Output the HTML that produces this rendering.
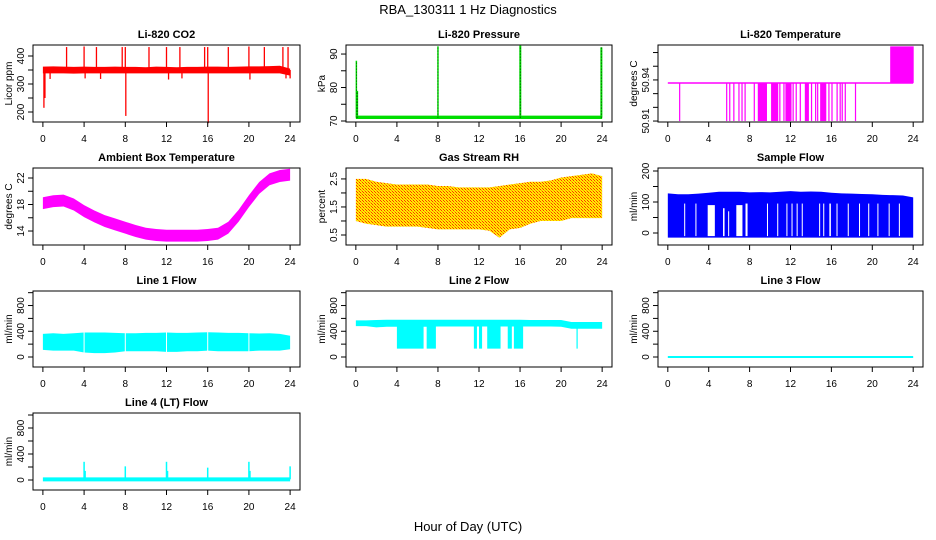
<!DOCTYPE html>
<html><head><meta charset="utf-8"><style>
body{margin:0;background:#fff}
svg{display:block;font-family:"Liberation Sans",Arial,sans-serif}
.t{font-weight:bold;font-size:11px;text-anchor:middle}
.tl{font-size:10px;text-anchor:middle}
</style></head><body>
<svg id="c" width="936" height="540" viewBox="0 0 936 540">
<defs>
<pattern id="rh" width="3" height="3" patternUnits="userSpaceOnUse">
<rect width="3" height="3" fill="#ffee00"/><rect width="1" height="1" fill="#ff3300"/><rect x="2" y="2" width="1" height="1" fill="#ff3300"/><rect x="1" y="1" width="1" height="1" fill="#ff9900"/>
</pattern>
</defs>
<text x="468" y="14" font-size="13" text-anchor="middle">RBA_130311  1 Hz Diagnostics</text>
<text x="468" y="531" font-size="13" text-anchor="middle">Hour of Day (UTC)</text>
</svg>
<script>
const hours=[0,1,2,3,4,5,6,7,8,9,10,11,12,13,14,15,16,17,18,19,20,21,22,23,24];
const xTicks=[0,4,8,12,16,20,24];
// CO2
const co2Low=[338,338,338,337,338,338,338,338,338,338,338,338,338,338,338,338,338,338,338,338,338,338,338,338,330];
const co2High=[362,363,362,361,362,361,361,362,361,361,360,362,361,360,361,361,362,362,361,362,363,363,364,365,355];
const co2SpikeH=[0.1,0.2,0.7,2.3,4.0,4.1,5.2,5.6,7.7,8.0,8.05,10.3,12.0,12.2,13.3,13.5,15.7,16.0,16.05,18.0,20.0,20.1,21.5,23.3,23.6,23.8,24.0];
const co2SpikeV=[215,250,318,432,434,320,432,318,432,432,186,432,432,316,432,320,432,432,160,432,434,316,432,432,320,432,320];
// Pressure
const presLow=[70.6,70.6,70.6,70.6,70.6,70.6,70.6,70.6,70.6,70.6,70.6,70.6,70.6,70.6,70.6,70.6,70.6,70.6,70.6,70.6,70.6,70.6,70.6,70.6,70.6];
const presHigh=[71.6,71.6,71.6,71.6,71.6,71.6,71.6,71.6,71.6,71.6,71.6,71.6,71.6,71.6,71.6,71.6,71.6,71.6,71.6,71.6,71.6,71.6,71.6,71.6,71.6];
const presSpikeH=[0.05,0.15,8.0,16.0,16.05,23.9,23.95];
const presSpikeV=[88,79,92.3,92.5,92.5,92,92];
// Li-820 temperature
const tempBase=50.9378, tempHigh=50.9645, tempLow=50.91;
const tempHighStart=21.75, tempHighEnd=24.05;
const tempDrops=[[1.1,1.2],[5.7,5.8],[6.0,6.1],[6.4,6.5],[6.9,7.0],[7.2,7.3],[7.5,7.6],[8.4,8.5],[8.8,9.7],[10.1,10.8],[10.9,11.0],[11.3,11.4],[11.5,12.1],[12.2,12.3],[12.5,12.6],[12.9,13.0],[13.4,13.8],[14.0,14.1],[14.4,14.5],[14.6,14.7],[14.9,15.5],[15.7,15.8],[16.0,16.1],[16.5,16.6],[16.8,16.9],[17.0,17.1],[17.3,17.4],[18.3,18.4]];
// Ambient box temperature
const ambMid=[18.2,18.5,18.6,18.0,17.0,16.2,15.5,15.0,14.5,14.0,13.6,13.4,13.3,13.3,13.3,13.3,13.4,13.6,14.5,16.3,18.5,20.5,21.8,22.3,22.5];
const ambHalf=0.9;
// Gas stream RH
const rhLow=[1.0,0.9,0.85,0.8,0.8,0.8,0.8,0.75,0.7,0.7,0.7,0.7,0.7,0.65,0.4,0.7,0.75,0.9,1.0,1.0,1.0,1.1,1.1,1.1,1.1];
const rhHigh=[2.5,2.5,2.4,2.35,2.3,2.3,2.3,2.3,2.25,2.25,2.2,2.2,2.2,2.2,2.25,2.3,2.35,2.4,2.4,2.45,2.55,2.6,2.65,2.7,2.6];
// Sample flow
const sfLow=[-15,-15,-15,-15,-15,-15,-15,-15,-15,-15,-15,-15,-15,-15,-15,-15,-15,-15,-15,-15,-15,-15,-15,-15,-15];
const sfHigh=[128,125,125,127,130,133,133,133,131,132,131,133,135,133,134,133,130,128,127,126,125,123,122,121,115];
const sfGapH=[1.6,2.7,3.9,5.4,5.9,6.7,7.6,9.7,10.7,11.6,12.1,12.6,13.1,14.8,15.2,15.8,16.5,17.6,18.7,19.6,20.5,21.6,22.6];
const sfGapW=[0.1,0.1,0.7,0.15,0.1,0.6,0.2,0.1,0.1,0.1,0.1,0.1,0.1,0.1,0.1,0.15,0.1,0.1,0.1,0.1,0.1,0.1,0.1];
const sfGapTop=[95,95,90,80,70,90,95,95,95,95,95,95,95,95,95,95,95,95,95,95,95,95,95];
// Line 1 flow
const l1Low=[110,100,100,100,70,60,60,70,90,90,90,90,80,80,90,90,100,90,90,90,90,100,100,100,120];
const l1High=[360,370,360,370,380,380,380,375,370,370,375,375,380,375,375,380,385,380,375,375,370,365,370,360,330];
// Line 2 flow
const l2Low=[480,480,460,470,470,470,470,470,475,475,475,475,475,475,475,475,475,475,475,475,470,440,440,440,440];
const l2High=[570,570,575,580,580,580,580,580,580,580,580,580,580,580,580,580,580,575,575,575,575,545,545,545,545];
const l2Drops=[[4.0,6.6],[6.9,7.8],[11.5,11.8],[12.0,12.3],[12.8,14.1],[14.8,15.2],[15.4,16.3],[21.5,21.55]];
const l2DropV=[130,130,130,130,130,130,130,130];
// Line 3 flow
const l3Val=[0,0,0,0,0,0,0,0,0,0,0,0,0,0,0,0,0,0,0,0,0,0,0,0,0];
// Line 4 flow
const l4Val=[10,10,10,10,10,10,10,10,10,10,10,10,10,10,10,10,10,10,10,10,10,10,10,10,10];
const l4SpikeH=[4.0,4.1,8.0,12.0,12.1,16.0,20.0,20.1,24.0];
const l4SpikeV=[280,140,210,280,140,190,280,140,210];

const svg=document.getElementById('c');
const NS='http://www.w3.org/2000/svg';
function el(tag,attrs,parent){const e=document.createElementNS(NS,tag);for(const k in attrs)e.setAttribute(k,attrs[k]);(parent||svg).appendChild(e);return e;}
const cols=[[33,300],[346,612],[658,923]];
const rows=[[45,122],[168,245],[291,367],[413,490]];
function panel(c,r,title,ylab,ylo,yhi,yticks,ylabels){
  const [x0,x1]=cols[c],[y0,y1]=rows[r];
  const g=el('g',{});
  
  
  const X=h=>x0+(h+0.96)/25.92*(x1-x0);
  const Y=v=>y1-(v-ylo)/(yhi-ylo)*(y1-y0);
  const t=el('text',{x:(x0+x1)/2,y:y0-7,class:'t'},g);t.textContent=title;
  
  
  const marks=el('g',{},g);
  
  
  const ax=el('g',{stroke:'#000','stroke-width':1,fill:'none'},g);
  
  
  el('rect',{x:x0,y:y0,width:x1-x0,height:y1-y0},ax);
  el('line',{x1:X(0),x2:X(24),y1:y1,y2:y1},ax);
  xTicks.forEach(h=>{el('line',{x1:X(h),x2:X(h),y1:y1,y2:y1+5},ax);
    const l=el('text',{x:X(h),y:y1+20,class:'tl'},g);l.textContent=h;
    
    });
  el('line',{x1:x0,x2:x0,y1:Y(yticks[0]),y2:Y(yticks[yticks.length-1])},ax);
  yticks.forEach(v=>el('line',{x1:x0-5,x2:x0,y1:Y(v),y2:Y(v)},ax));
  ylabels.forEach(v=>{const yy=Y(v);const l=el('text',{x:x0-9,y:yy,class:'tl',transform:`rotate(-90 ${x0-9} ${yy})`},g);l.textContent=v;
    
    });
  const ym=(y0+y1)/2;
  const yl=el('text',{x:x0-21,y:ym,class:'tl',transform:`rotate(-90 ${x0-21} ${ym})`},g);yl.textContent=ylab;
  
  
  return {X,Y,g:marks};
}
function band(p,lo,hi,fill){
  let d='M'+hours.map((h,i)=>p.X(h)+','+p.Y(hi[i])).join('L');
  for(let i=hours.length-1;i>=0;i--)d+='L'+p.X(hours[i])+','+p.Y(lo[i]);
  return el('path',{d:d+'Z',fill:fill},p.g);
}
function vline(p,h,v0,v1,col,w){return el('line',{x1:p.X(h),x2:p.X(h),y1:p.Y(v0),y2:p.Y(v1),stroke:col,'stroke-width':w||1},p.g);}
function line(p,vals,col,w){return el('polyline',{points:hours.map((h,i)=>p.X(h)+','+p.Y(vals[i])).join(' '),fill:'none',stroke:col,'stroke-width':w},p.g);}

// 1 CO2
let p=panel(0,0,'Li-820 CO2','Licor ppm',164.3,439.3,[200,250,300,350,400],[200,300,400]);
band(p,co2Low,co2High,'#ff0000');
co2SpikeH.forEach((h,i)=>vline(p,h,350,co2SpikeV[i],'#ff0000',1.3));
// 2 Pressure
p=panel(1,0,'Li-820 Pressure','kPa',69.7,92.7,[70,75,80,85,90],[70,80,90]);
band(p,presLow,presHigh,'#00dd00');
presSpikeH.forEach((h,i)=>{vline(p,h,71,presSpikeV[i],'#00dd00',1.5);vline(p,h,71,presSpikeV[i],'#000',0.6).setAttribute('stroke-dasharray','1 2');});
// 3 Li temp
p=panel(2,0,'Li-820 Temperature','degrees C',50.9093,50.9655,[50.91,50.92,50.93,50.94,50.95,50.96],[50.91,50.94]);
el('line',{x1:p.X(0),x2:p.X(24),y1:p.Y(tempBase),y2:p.Y(tempBase),stroke:'#ff00ff','stroke-width':1.5},p.g);
el('rect',{x:p.X(tempHighStart),y:p.Y(tempHigh),width:p.X(tempHighEnd)-p.X(tempHighStart),height:p.Y(tempBase)-p.Y(tempHigh),fill:'#ff00ff'},p.g);
tempDrops.forEach(([a,b])=>el('rect',{x:p.X(a),y:p.Y(tempBase),width:Math.max(1.2,p.X(b)-p.X(a)),height:p.Y(tempLow)-p.Y(tempBase),fill:'#ff00ff'},p.g));
// 4 Ambient
p=panel(0,1,'Ambient Box Temperature','degrees C',11.89,23.51,[14,16,18,20,22],[14,18,22]);
band(p,ambMid.map(v=>v-ambHalf),ambMid.map(v=>v+ambHalf),'#ff00ff');
// 5 RH
p=panel(1,1,'Gas Stream RH','percent',0.143,2.89,[0.5,1,1.5,2,2.5],[0.5,1.5,2.5]);
band(p,rhLow,rhHigh,'url(#rh)');
// 6 Sample flow
p=panel(2,1,'Sample Flow','ml/min',-38.7,209.7,[0,50,100,150,200],[0,100,200]);
band(p,sfLow,sfHigh,'#0000ff');
sfGapH.forEach((h,i)=>el('rect',{x:p.X(h),y:p.Y(sfGapTop[i]),width:Math.max(1,p.X(h+sfGapW[i])-p.X(h)),height:p.Y(-10)-p.Y(sfGapTop[i]),fill:'#fff'},p.g));
// 7 Line1
p=panel(0,2,'Line 1 Flow','ml/min',-155.5,1026,[0,200,400,600,800,1000],[0,400,800]);
band(p,l1Low,l1High,'#00ffff');
[4,8,12,16,20].forEach(h=>vline(p,h,60,390,'#fff',1));
// 8 Line2
p=panel(1,2,'Line 2 Flow','ml/min',-155.5,1026,[0,200,400,600,800,1000],[0,400,800]);
band(p,l2Low,l2High,'#00ffff');
l2Drops.forEach(([a,b],i)=>el('rect',{x:p.X(a),y:p.Y(480),width:Math.max(1.2,p.X(b)-p.X(a)),height:p.Y(l2DropV[i])-p.Y(480),fill:'#00ffff'},p.g));
// 9 Line3
p=panel(2,2,'Line 3 Flow','ml/min',-155.5,1026,[0,200,400,600,800,1000],[0,400,800]);
line(p,l3Val,'#00ffff',2);
// 10 Line4
p=panel(0,3,'Line 4 (LT) Flow','ml/min',-154,1031,[0,200,400,600,800,1000],[0,400,800]);
line(p,l4Val,'#00ffff',4);
l4SpikeH.forEach((h,i)=>vline(p,h,10,l4SpikeV[i],'#00ffff',1.5));
</script>
</body></html>
